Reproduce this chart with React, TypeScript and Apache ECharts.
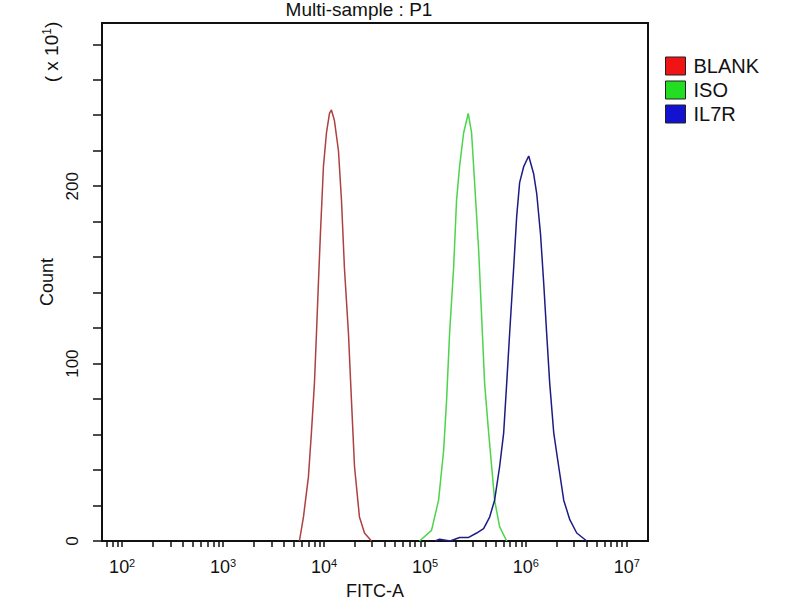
import React, { useEffect, useRef } from "react";
import * as echarts from "echarts";

// FITC-A positions are stored as decade exponents (log10 of FITC-A); counts in units of 10
const BLANK_X = [3.756, 3.796, 3.845, 3.875, 3.905, 3.925, 3.944, 3.964, 3.994, 4.024, 4.054, 4.073, 4.103, 4.143, 4.173, 4.202, 4.242, 4.272, 4.302, 4.351, 4.401, 4.47];
const BLANK_Y = [0, 13.5, 36, 61, 89, 117, 145, 173, 211, 230, 241, 243, 237, 220, 192, 154, 117, 79, 42, 13.5, 4.5, 0];

const ISO_X = [4.946, 5.065, 5.135, 5.185, 5.214, 5.244, 5.284, 5.313, 5.343, 5.383, 5.429, 5.462, 5.492, 5.532, 5.562, 5.591, 5.631, 5.661, 5.69, 5.74, 5.81];
const ISO_Y = [0, 6, 23, 51, 79, 117, 154, 192, 211, 230, 241, 230, 202, 164, 126, 89, 61, 42, 23, 8, 0];

const IL7R_X = [5.1, 5.145, 5.25, 5.343, 5.433, 5.512, 5.581, 5.641, 5.69, 5.74, 5.78, 5.81, 5.839, 5.879, 5.909, 5.938, 5.978, 6.028, 6.077, 6.107, 6.145, 6.177, 6.206, 6.236, 6.276, 6.325, 6.375, 6.435, 6.504, 6.603];
const IL7R_Y = [0, 1, 0, 2, 2, 4.5, 7, 13.5, 23, 42, 61, 89, 117, 154, 183, 202, 211, 217, 207, 196, 173, 145, 117, 89, 61, 42, 23, 12, 4.5, 0];

const SERIES_NAMES = ["BLANK", "ISO", "IL7R"];
const LINE_COLORS = ["#ad4040", "#4cd44c", "#1c1c84"];
const LEGEND_COLORS = ["#f01414", "#22dd22", "#1212d0"];

const X_MIN = 1.8;
const X_MAX = 7.21;
const DECADES = [1, 2, 3, 4, 5, 6, 7];
const DECADE_LABELS = [2, 3, 4, 5, 6, 7];
const MULTIPLES = [1, 2, 3, 4, 5, 6, 7, 8, 9];

const Y_MAX = 292;
const Y_TICKS = [0, 20, 40, 60, 80, 100, 120, 140, 160, 180, 200, 220, 240, 260, 280];
const Y_LABELS = [0, 100, 200];

const FONT = "'Liberation Sans', Arial, sans-serif";

function zip(xs: number[], ys: number[]) {
  return xs.map((x, i) => [x, ys[i]]);
}

export default function App() {
  const ref = useRef<HTMLDivElement>(null);

  useEffect(() => {
    if (!ref.current) return;
    const chart = echarts.init(ref.current, undefined, { renderer: "svg" });

    const xTicks: number[] = [];
    DECADES.forEach((d) => {
      MULTIPLES.forEach((m) => {
        const v = d + Math.log10(m);
        if (v >= X_MIN && v <= X_MAX) xTicks.push(v);
      });
    });

    const seriesData = [zip(BLANK_X, BLANK_Y), zip(ISO_X, ISO_Y), zip(IL7R_X, IL7R_Y)];

    chart.setOption({
      animation: false,
      backgroundColor: "#ffffff",
      grid: {
        left: 102,
        top: 23,
        right: 152,
        bottom: 59,
        containLabel: false,
        outerBoundsMode: "none",
        show: true,
        borderColor: "#111",
        borderWidth: 2,
        backgroundColor: "transparent",
      },
      legend: {
        orient: "vertical",
        left: 665,
        top: 55,
        padding: 0,
        icon: "rect",
        itemWidth: 20,
        itemHeight: 18,
        itemGap: 2,
        itemStyle: { borderColor: "#222", borderWidth: 1 },
        textStyle: { fontSize: 20, color: "#111", fontFamily: FONT, lineHeight: 20, padding: [2, 0, 0, 3] },
        data: SERIES_NAMES.map((n, i) => ({ name: n, itemStyle: { color: LEGEND_COLORS[i] } })),
        selectedMode: false,
      },
      xAxis: {
        type: "value",
        min: X_MIN,
        max: X_MAX,
        name: "FITC-A",
        nameLocation: "middle",
        nameGap: 41,
        nameTextStyle: { fontSize: 18, lineHeight: 18, color: "#111", fontFamily: FONT, verticalAlign: "top" },
        splitLine: { show: false },
        axisLine: { show: true, onZero: false, lineStyle: { color: "#111", width: 2 } },
        axisTick: { show: true, length: 6, customValues: xTicks, lineStyle: { color: "#111", width: 1.5 } },
        axisLabel: {
          customValues: DECADE_LABELS,
          margin: 16,
          color: "#111",
          fontFamily: FONT,
          fontSize: 18,
          lineHeight: 20,
          formatter: (v: number) => `10{s|${Math.round(v)}}`,
          rich: {
            s: { fontSize: 11, lineHeight: 12, verticalAlign: "top", color: "#111", fontFamily: FONT },
          },
        },
      },
      yAxis: {
        type: "value",
        min: 0,
        max: Y_MAX,
        name: "Count",
        nameLocation: "middle",
        nameRotate: 90,
        nameGap: 46,
        nameTextStyle: { fontSize: 18, color: "#111", fontFamily: FONT },
        splitLine: { show: false },
        axisLine: { show: true, lineStyle: { color: "#111", width: 2 } },
        axisTick: { show: true, length: 9, customValues: Y_TICKS, lineStyle: { color: "#111", width: 1.5 } },
        axisLabel: {
          customValues: Y_LABELS,
          rotate: 90,
          margin: 21,
          color: "#111",
          fontFamily: FONT,
          fontSize: 17,
        },
      },
      graphic: [
        {
          type: "text",
          x: 359,
          y: 0,
          style: {
            text: "Multi-sample : P1",
            align: "center",
            verticalAlign: "top",
            fontSize: 19,
            fontFamily: FONT,
            fill: "#111",
          },
        },
        {
          type: "text",
          x: 51,
          y: 52,
          rotation: Math.PI / 2,
          style: {
            text: "( x 10{s|1})",
            align: "center",
            verticalAlign: "middle",
            fontSize: 19,
            lineHeight: 21,
            fontFamily: FONT,
            fill: "#111",
            rich: { s: { fontSize: 12, lineHeight: 13, verticalAlign: "top", fill: "#111", fontFamily: FONT } },
          },
        },
      ],
      series: SERIES_NAMES.map((n, i) => ({
        name: n,
        type: "line",
        data: seriesData[i],
        showSymbol: false,
        symbol: "none",
        color: LINE_COLORS[i],
        lineStyle: { color: LINE_COLORS[i], width: 1.5 },
        z: 3,
      })),
    });

    return () => chart.dispose();
  }, []);

  return (
    <div
      ref={ref}
      style={{ position: "absolute", left: 0, top: 0, width: 800, height: 600, background: "#fff" }}
    />
  );
}
